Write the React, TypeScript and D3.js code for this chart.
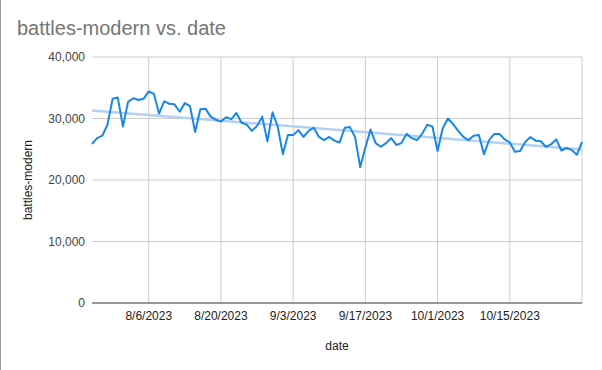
import React from 'react';
import * as d3 from 'd3';

// daily values, 7/26/2023 .. 10/29/2023
const startDate = '2023-07-26';
const endDate = '2023-10-29';
const battles = [
  25900, 26800, 27200, 29000, 33200, 33400, 28700, 32700, 33300, 33000,
  33200, 34400, 34000, 30800, 32800, 32400, 32300, 31100, 32500, 32000,
  27800, 31500, 31600, 30300, 29800, 29500, 30200, 29900, 30900, 29300,
  29000, 28000, 28800, 30300, 26300, 31000, 28700, 24200, 27300, 27300,
  28100, 27000, 28000, 28500, 27000, 26500, 27000, 26400, 26100, 28500,
  28600, 27000, 22100, 25300, 28200, 26000, 25400, 26000, 26800, 25700,
  26000, 27500, 26800, 26500, 27500, 29000, 28700, 24700, 28400, 30000,
  29100, 28000, 27000, 26500, 27200, 27300, 24200, 26500, 27500, 27500,
  26600, 26100, 24600, 24700, 26200, 27000, 26400, 26300, 25400, 25800,
  26600, 24800, 25200, 24900, 24100, 26200,
];
const gridDates = ['2023-08-06', '2023-08-20', '2023-09-03', '2023-09-17', '2023-10-01', '2023-10-15', '2023-10-29'];
const labelDates = ['2023-08-06', '2023-08-20', '2023-09-03', '2023-09-17', '2023-10-01', '2023-10-15'];
const yTicks = [0, 10000, 20000, 30000, 40000];

const width = 602;
const height = 370;
const margin = { top: 57, right: 20, bottom: 67, left: 92 };
const font = 'Arial, "Liberation Sans", sans-serif';

export default function App() {
  const parse = d3.utcParse('%Y-%m-%d');
  const dates = d3.utcDay.range(parse(startDate)!, d3.utcDay.offset(parse(endDate)!, 1));
  const data = battles.map((v, i) => ({ date: dates[i], value: v }));

  const x = d3.scaleUtc().domain([dates[0], dates[dates.length - 1]]).range([margin.left, width - margin.right]);
  const y = d3.scaleLinear().domain([0, 40000]).range([height - margin.bottom, margin.top]);
  const fmt = d3.utcFormat('%-m/%-d/%Y');

  // least squares trendline
  const xs = data.map((d) => +d.date);
  const mx = d3.mean(xs)!;
  const my = d3.mean(battles)!;
  const slope = d3.sum(data, (d) => (+d.date - mx) * (d.value - my)) / d3.sum(xs, (v) => (v - mx) ** 2);
  const trend = (t: number) => my + slope * (t - mx);
  const t0 = +dates[0];
  const t1 = +dates[dates.length - 1];

  const line = d3
    .line<{ date: Date; value: number }>()
    .x((d) => x(d.date))
    .y((d) => y(d.value));

  return (
    <svg width={width} height={height} style={{ position: 'absolute', left: 0, top: 0, background: '#fff' }} fontFamily={font}>
      <line x1={0.5} x2={0.5} y1={0} y2={height} stroke="#9e9e9e" />
      <text x={17} y={35} fontSize={20} fill="#757575">battles-modern vs. date</text>

      {yTicks.map((t) => (
        <g key={t}>
          {t > 0 && <line x1={margin.left} x2={width - margin.right} y1={y(t)} y2={y(t)} stroke="#cccccc" />}
          <text x={85} y={y(t) + 4} fontSize={12} fill="#444" textAnchor="end">{d3.format(',')(t)}</text>
        </g>
      ))}
      {gridDates.map((s) => (
        <line key={s} x1={x(parse(s)!)} x2={x(parse(s)!)} y1={margin.top} y2={height - margin.bottom} stroke="#cccccc" />
      ))}
      {labelDates.map((s) => (
        <text key={s} x={x(parse(s)!)} y={height - margin.bottom + 17} fontSize={12} fill="#222" textAnchor="middle">{fmt(parse(s)!)}</text>
      ))}
      <line x1={margin.left} x2={width - margin.right} y1={y(0)} y2={y(0)} stroke="#333" />

      <line x1={x(dates[0])} x2={x(dates[dates.length - 1])} y1={y(trend(t0))} y2={y(trend(t1))} stroke="#b3d1f5" strokeWidth={2.5} />
      <path d={line(data)!} fill="none" stroke="#1a87e6" strokeWidth={2} strokeLinejoin="round" />

      <text x={(margin.left + width - margin.right) / 2} y={350} fontSize={12} fill="#222" textAnchor="middle">date</text>
      <text transform={`translate(32,${(margin.top + height - margin.bottom) / 2}) rotate(-90)`} fontSize={12} fill="#222" textAnchor="middle">battles-modern</text>
    </svg>
  );
}
